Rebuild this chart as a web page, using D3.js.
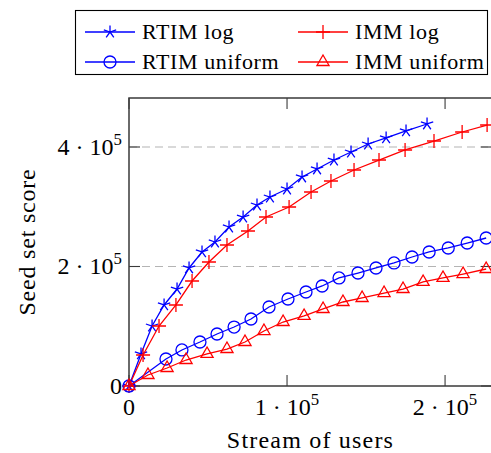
<!DOCTYPE html>
<html>
<head>
<meta charset="utf-8">
<script src="https://cdn.jsdelivr.net/npm/d3@7"></script>
<style>
  body { margin: 0; background: #fff; }
  svg { display: block; }
  text { font-family: "Liberation Serif", "Times New Roman", serif; fill: #000; }
</style>
</head>
<body>
<div id="chart"></div>
<script>
// data (x: users in stream, y: seed set score)
var rtimLogX = [0, 7600, 14600, 22200, 30400, 38000, 46200, 54400, 63300, 72200, 81000,
    89200, 100000, 109500, 119000, 129700, 140500, 151300, 162700, 175300, 188600];
var rtimLogY = [0, 53600, 100400, 135600, 162300, 197500, 224300, 241000, 266100, 282800, 302900,
    316300, 329700, 349800, 363200, 378200, 391600, 405000, 415100, 426800, 438500];

var immLogX = [0, 8900, 19000, 29700, 39900, 50600, 62000, 75300, 86700, 101300, 115200,
    127800, 142400, 158200, 174700, 193000, 210800, 226600];
var immLogY = [0, 51900, 100400, 135600, 175700, 207500, 236000, 259400, 282800, 299600, 324700,
    343100, 361500, 378200, 395000, 410000, 425100, 436800];

var rtimUniX = [0, 23400, 33500, 44900, 55700, 66500, 77200, 88600, 100600, 112000, 122200,
    132900, 144900, 156300, 167700, 179100, 189900, 202000, 214000, 226000];
var rtimUniY = [0, 45200, 60300, 73600, 87000, 98700, 112100, 132200, 145600, 157300, 167400,
    180800, 189100, 197500, 205900, 215900, 224300, 231000, 239300, 247700];

var immUniX = [0, 12000, 24100, 36100, 49400, 62000, 73400, 85400, 97500, 110800, 122800,
    135400, 147500, 161400, 173400, 186100, 198700, 211400, 226000];
var immUniY = [0, 18400, 30100, 43500, 53600, 61900, 73600, 92000, 107100, 117200, 128900,
    140600, 147300, 155600, 162300, 174100, 180800, 187400, 195800];

var xTicks = [0, 100000, 200000];
var yTicks = [0, 200000, 400000];
var seriesNames = ['RTIM log', 'IMM log', 'RTIM uniform', 'IMM uniform'];

var W = 491, H = 453;
var plotL = 129, plotR = 492, plotT = 98, plotB = 386;

var x = d3.scaleLinear().domain([0, 229700]).range([plotL, plotR]);
var y = d3.scaleLinear().domain([0, 482000]).range([plotB, plotT]);

var svg = d3.select('#chart').append('svg')
    .attr('width', W)
    .attr('height', H);

// marker shapes
function star(r) {
    var p = '';
    for (var i = 0; i < 5; i++) {
        var a = (90 + i * 72) * Math.PI / 180;
        p += 'M0,0L' + (r * Math.cos(a)).toFixed(2) + ',' + (-r * Math.sin(a)).toFixed(2);
    }
    return p;
}
function plus(r) { return 'M' + -r + ',0H' + r + 'M0,' + -r + 'V' + r; }
function circle(r) { return 'M' + r + ',0A' + r + ',' + r + ' 0 1,1 ' + -r + ',0A' + r + ',' + r + ' 0 1,1 ' + r + ',0Z'; }
function triangle(r) {
    var h = r * Math.sin(Math.PI / 6), w = r * Math.cos(Math.PI / 6);
    return 'M0,' + -r + 'L' + w.toFixed(2) + ',' + h.toFixed(2) + 'L' + (-w).toFixed(2) + ',' + h.toFixed(2) + 'Z';
}

var series = [
    {name: seriesNames[0], xs: rtimLogX, ys: rtimLogY, color: '#0000ff', mark: star(6.5)},
    {name: seriesNames[1], xs: immLogX, ys: immLogY, color: '#ff0000', mark: plus(7)},
    {name: seriesNames[2], xs: rtimUniX, ys: rtimUniY, color: '#0000ff', mark: circle(6)},
    {name: seriesNames[3], xs: immUniX, ys: immUniY, color: '#ff0000', mark: triangle(7)}
];

// grid
svg.append('g')
    .selectAll('line')
    .data(yTicks.filter(function (d) { return d > 0; }))
    .enter()
    .append('line')
    .attr('x1', plotL).attr('x2', plotR)
    .attr('y1', function (d) { return y(d); })
    .attr('y2', function (d) { return y(d); })
    .attr('stroke', '#b4b4b4')
    .attr('stroke-width', 1.1)
    .attr('stroke-dasharray', '8,5');

// frame and ticks
var axisColor = '#3a3a3a';
svg.append('rect')
    .attr('x', plotL).attr('y', plotT)
    .attr('width', plotR - plotL).attr('height', plotB - plotT)
    .attr('fill', 'none')
    .attr('stroke', axisColor)
    .attr('stroke-width', 1.5);

var tickLen = 11;
var tk = svg.append('g').attr('stroke', axisColor).attr('stroke-width', 1.1);
xTicks.forEach(function (d) {
    tk.append('line').attr('x1', x(d)).attr('x2', x(d)).attr('y1', plotB).attr('y2', plotB - tickLen);
    tk.append('line').attr('x1', x(d)).attr('x2', x(d)).attr('y1', plotT).attr('y2', plotT + tickLen);
});
yTicks.forEach(function (d) {
    tk.append('line').attr('x1', plotL).attr('x2', plotL + tickLen).attr('y1', y(d)).attr('y2', y(d));
    tk.append('line').attr('x1', plotR).attr('x2', plotR - tickLen).attr('y1', y(d)).attr('y2', y(d));
});

// tick labels
function sciLabel(sel, d) {
    if (d === 0) { sel.text('0'); return; }
    var m = d / 100000;
    sel.append('tspan').text(m + ' \u00b7 10');
    sel.append('tspan').attr('dy', -10).attr('font-size', '70%').text('5');
}

svg.append('g')
    .selectAll('text')
    .data(xTicks)
    .enter()
    .append('text')
    .attr('x', function (d) { return x(d); })
    .attr('y', 415)
    .attr('text-anchor', 'middle')
    .attr('font-size', 24)
    .each(function (d) { sciLabel(d3.select(this), d); });

svg.append('g')
    .selectAll('text')
    .data(yTicks)
    .enter()
    .append('text')
    .attr('x', 122)
    .attr('y', function (d) { return y(d) + 8; })
    .attr('text-anchor', 'end')
    .attr('font-size', 24)
    .each(function (d) { sciLabel(d3.select(this), d); });

// axis titles
svg.append('text')
    .attr('x', (plotL + plotR) / 2)
    .attr('y', 448)
    .attr('text-anchor', 'middle')
    .attr('font-size', 24)
    .attr('letter-spacing', 1.2)
    .text('Stream of users');

svg.append('text')
    .attr('transform', 'translate(35,' + (plotT + plotB) / 2 + ') rotate(-90)')
    .attr('text-anchor', 'middle')
    .attr('font-size', 24)
    .attr('letter-spacing', 0.8)
    .text('Seed set score');

// series
var line = d3.line();
series.forEach(function (s) {
    var pts = s.xs.map(function (v, i) { return [x(v), y(s.ys[i])]; });
    var g = svg.append('g');
    g.append('path')
        .attr('d', line(pts))
        .attr('fill', 'none')
        .attr('stroke', s.color)
        .attr('stroke-width', 1.3);
    g.selectAll('path.mark')
        .data(pts)
        .enter()
        .append('path')
        .attr('class', 'mark')
        .attr('transform', function (p) { return 'translate(' + p[0] + ',' + p[1] + ')'; })
        .attr('d', s.mark)
        .attr('fill', 'none')
        .attr('stroke', s.color)
        .attr('stroke-width', 1.3);
});

// legend
var lg = svg.append('g');
lg.append('rect')
    .attr('x', 75.5).attr('y', 10.5)
    .attr('width', 412).attr('height', 64)
    .attr('fill', '#fff')
    .attr('stroke', '#000')
    .attr('stroke-width', 1.1);

var legendPos = [[85, 32], [298, 32], [85, 62], [298, 62]];
series.forEach(function (s, i) {
    var lx = legendPos[i][0], ly = legendPos[i][1];
    lg.append('line')
        .attr('x1', lx).attr('x2', lx + 50)
        .attr('y1', ly).attr('y2', ly)
        .attr('stroke', s.color)
        .attr('stroke-width', 1.3);
    lg.append('path')
        .attr('transform', 'translate(' + (lx + 25) + ',' + ly + ')')
        .attr('d', s.mark)
        .attr('fill', 'none')
        .attr('stroke', s.color)
        .attr('stroke-width', 1.3);
    lg.append('text')
        .attr('x', lx + 57)
        .attr('y', ly + 7)
        .attr('font-size', 22)
        .attr('letter-spacing', 0.6)
        .text(s.name);
});
</script>
</body>
</html>
